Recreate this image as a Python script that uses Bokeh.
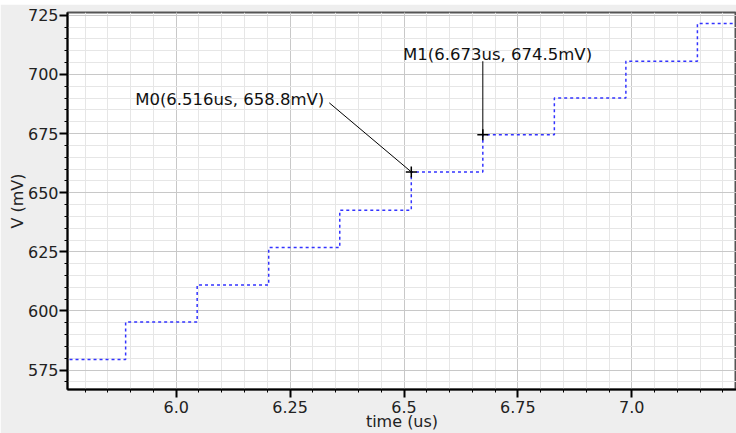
from bokeh.plotting import figure
from bokeh.models import FixedTicker, Range1d, ColumnDataSource
from bokeh.embed import file_html
from bokeh.resources import INLINE
from bokeh.core.properties import value

# staircase waveform (time in us, voltage in mV)
step_t = [5.70, 5.889, 6.046, 6.203, 6.359, 6.516, 6.673, 6.830, 6.987, 7.144, 7.30]
step_v = [579.5, 595.3, 611.0, 626.8, 642.6, 658.8, 674.5, 690.0, 705.6, 721.5, 721.5]

# markers
marker_names = ["M0", "M1"]
marker_t = [6.516, 6.673]
marker_v = [658.8, 674.5]
marker_labels = ["M0(6.516us, 658.8mV)", "M1(6.673us, 674.5mV)"]
# label anchor points (data units) for the annotation text / leader lines
label_t = [5.910, 6.498]
label_v = [689.4, 708.4]
leader_t0 = [6.336, 6.673]
leader_v0 = [688.0, 705.6]

x_ticks = [6.0, 6.25, 6.5, 6.75, 7.0]
x_tick_labels = ["6.0", "6.25", "6.5", "6.75", "7.0"]
x_minor = [round(5.75 + 0.05 * i, 2) for i in range(0, 31)]
y_ticks = [575, 600, 625, 650, 675, 700, 725]
y_tick_labels = ["575", "600", "625", "650", "675", "700", "725"]
y_minor = [565 + 5 * i for i in range(0, 34)]

FONT = "DejaVu Sans"

p = figure(width=736, height=429, output_backend="svg", toolbar_location=None,
           x_range=Range1d(5.7614, 7.2298), y_range=Range1d(566.8, 726.2),
           min_border_left=67, min_border_right=0, min_border_top=8, min_border_bottom=43,
           background_fill_color="white", border_fill_color="#eeeeee",
           outline_line_color="#555555", outline_line_width=2)
p.margin = (4, 0, 0, 0)

p.xaxis.ticker = FixedTicker(ticks=x_ticks, minor_ticks=x_minor)
p.yaxis.ticker = FixedTicker(ticks=y_ticks, minor_ticks=y_minor)
p.xaxis.major_label_overrides = {t: l for t, l in zip(x_ticks, x_tick_labels)}
p.yaxis.major_label_overrides = {t: l for t, l in zip(y_ticks, y_tick_labels)}

for ax in (p.xaxis[0], p.yaxis[0]):
    ax.axis_line_color = "black"
    ax.axis_line_width = 2
    ax.major_tick_line_color = "black"
    ax.minor_tick_line_color = "black"
    ax.major_tick_line_width = 2
    ax.minor_tick_line_width = 1
    ax.major_tick_in = 0
    ax.minor_tick_in = 0
    ax.major_tick_out = 8
    ax.minor_tick_out = 3
    ax.major_label_text_font = FONT
    ax.major_label_text_font_size = "16px"
    ax.major_label_text_color = "#222222"
    ax.axis_label_text_font = FONT
    ax.axis_label_text_font_size = "16px"
    ax.axis_label_text_font_style = "normal"
    ax.axis_label_text_color = "#222222"

p.xaxis.axis_label = "time (us)"
p.yaxis.axis_label = "V (mV)"
p.xaxis.major_label_standoff = 3
p.xaxis.axis_label_standoff = -4
p.yaxis.major_label_standoff = 1
p.yaxis.axis_label_standoff = -2

p.grid.grid_line_color = "#c8c8c8"
p.grid.grid_line_width = 1
p.grid.minor_grid_line_color = "#e6e6e6"
p.grid.minor_grid_line_width = 1

p.step(step_t, step_v, mode="after", line_color="#3333ff", line_width=1.5,
       line_dash="3 3")

# leader lines
p.segment(x0=leader_t0, y0=leader_v0, x1=marker_t, y1=marker_v,
          line_color="black", line_width=1)

# marker crosses
p.scatter(marker_t, marker_v, marker="cross", size=11, line_color="black",
          line_width=1.5)

src = ColumnDataSource(dict(x=label_t, y=label_v, text=marker_labels))
p.text(x="x", y="y", text="text", source=src, text_font=value(FONT),
       text_font_size="16.5px", text_color="#111111", text_baseline="middle",
       text_align="left")

open("out.html", "w").write(file_html(p, INLINE))
